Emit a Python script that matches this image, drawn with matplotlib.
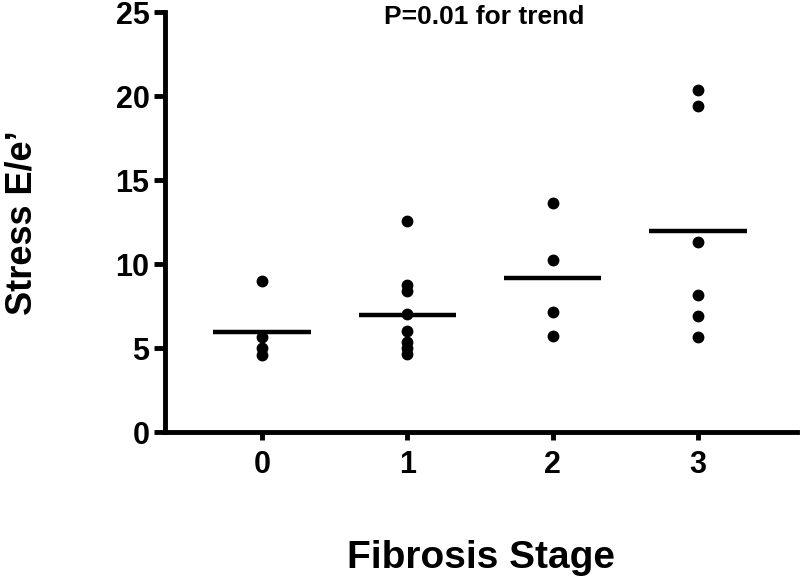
import numpy as np
import matplotlib
matplotlib.use("Agg")
import matplotlib.pyplot as plt

plt.rcParams['font.family'] = ['Liberation Sans', 'DejaVu Sans']
plt.rcParams['font.weight'] = 'bold'

# fibrosis stage groups
stages = [0, 1, 2, 3]
stage0 = [9.0, 5.7, 5.05, 4.6]
stage1 = [12.55, 8.8, 8.4, 7.05, 6.05, 5.4, 5.05, 4.65]
stage2 = [13.65, 10.25, 7.15, 5.75]
stage3 = [20.4, 19.4, 11.3, 8.2, 6.9, 5.65]
groups = [stage0, stage1, stage2, stage3]
means = [6.0, 7.0, 9.2, 12.0]

fig = plt.figure(figsize=(8, 5.82), dpi=100)
ax = fig.add_axes([0.206, 0.257, 0.79, 0.722])

for s, vals in zip(stages, groups):
    ax.plot([s] * len(vals), vals, 'o', color='black', markersize=7.5, clip_on=False)
for s, m in zip(stages, means):
    ax.plot([s - 0.335, s + 0.335], [m, m], color='black', linewidth=3.2, solid_capstyle='butt')

ax.set_xlim(-0.67, 3.68)
ax.set_ylim(0, 25)
ax.set_xticks(stages)
ax.set_yticks([0, 5, 10, 15, 20, 25])
ax.tick_params(axis='both', labelsize=22, width=3.5, length=6, pad=7)
ax.tick_params(axis='y', length=8, pad=3)
for lab in ax.get_xticklabels() + ax.get_yticklabels():
    lab.set_fontweight('bold')

ax.spines['top'].set_visible(False)
ax.spines['right'].set_visible(False)
ax.spines['left'].set_linewidth(3.5)
ax.spines['bottom'].set_linewidth(3.5)

ax.set_xlabel('Fibrosis Stage', fontsize=28, fontweight='bold', labelpad=43)
ax.set_ylabel('Stress E/e’', fontsize=26, fontweight='bold')
ax.yaxis.set_label_coords(-0.198, 0.5)
ax.text(0.506, 0.989, 'P=0.01 for trend', transform=ax.transAxes, ha='center', va='center',
        fontsize=19, fontweight='bold')

fig.savefig('out.png', dpi=100)
